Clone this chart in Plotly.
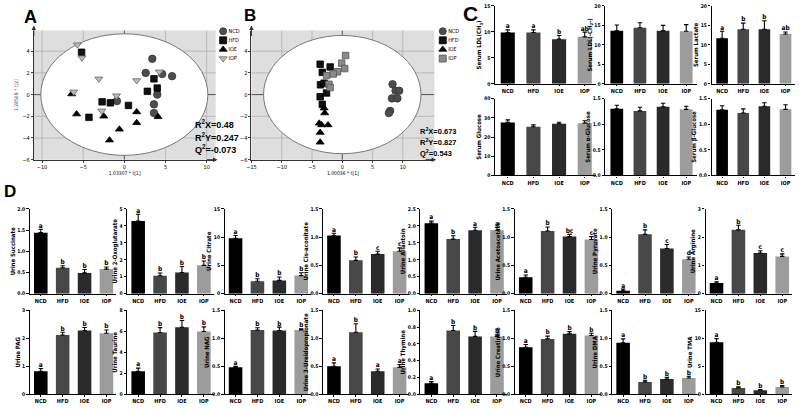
import plotly.graph_objects as go

W, H = 800, 409
groups = ["NCD", "HFD", "IOE", "IOP"]

# ---------------- Panel A: score plot ----------------
a_ncd_x = [3.4, 2.6, 4.6, 5.8, 4.0, -0.9, 3.6, 3.6]
a_ncd_y = [3.3, 2.0, 1.9, 1.7, 0.0, -0.6, -0.9, -1.7]
a_hfd_x = [-5.2, 3.6, 2.8, 4.0, -2.7, -1.7, 0.5, -4.3]
a_hfd_y = [3.9, 1.45, 0.3, 0.6, -0.67, -0.76, -1.0, -2.1]
a_ioe_x = [-6.4, -5.8, -2.5, 1.5, 4.1, 1.5, -0.6, -1.8]
a_ioe_y = [0.05, -1.8, -2.0, -1.6, -2.05, -2.6, -3.2, -4.2]
a_iop_x = [-5.7, -5.15, -3.1, -6.15, -0.95, -2.75, 1.5, 4.25]
a_iop_y = [4.6, 3.4, 1.45, 0.25, -0.1, -1.5, 1.3, 2.1]
a_stats = ["R<sup>2</sup>X=0.48", "R<sup>2</sup>Y=0.247", "Q<sup>2</sup>=-0.073"]

# ---------------- Panel B: score plot ----------------
b_ncd_x = [8.3, 8.8, 9.4, 8.2, 9.1, 7.9, 7.7]
b_ncd_y = [0.95, 0.35, 0.35, -0.35, -0.35, -1.5, -1.7]
b_hfd_x = [-3.65, -3.3, -2.0, -3.6, -3.0, -2.6, -3.65, -3.3]
b_hfd_y = [2.8, 2.05, 2.55, 0.9, 1.05, 0.15, -0.2, -0.9]
b_ioe_x = [-3.0, -2.9, -3.8, -3.4, -2.35, -3.65, -3.65]
b_ioe_y = [-1.25, -1.7, -2.65, -2.8, -2.8, -3.5, -4.4]
b_iop_x = [0.55, -0.1, 0.4, -0.8, -1.5, -2.6, -2.2, -2.0]
b_iop_y = [3.6, 2.9, 2.4, 2.1, 1.9, 1.75, 0.95, 0.65]
b_stats = ["R<sup>2</sup>X=0.673", "R<sup>2</sup>Y=0.827", "Q<sup>2</sup>=0.543"]

# ---------------- Panel C: serum ----------------
c_titles = ["Serum LDL(CH<sub>3</sub>)", "Serum LDL(-CH<sub>2</sub>-)", "Serum Lactate",
            "Serum Glucose", "Serum α-Glucose", "Serum β-Glucose"]
c_vals = [[9.9, 9.9, 8.6, 9.05], [13.6, 14.4, 13.6, 13.5], [11.7, 14.0, 14.0, 12.8],
          [27.6, 25.3, 26.9, 27.2], [1.30, 1.26, 1.34, 1.29], [1.28, 1.22, 1.35, 1.29]]
c_errs = [[0.5, 0.5, 0.7, 0.9], [1.5, 1.3, 1.4, 1.7], [1.8, 1.6, 2.2, 0.5],
          [1.3, 1.0, 0.8, 1.3], [0.07, 0.07, 0.07, 0.06], [0.08, 0.08, 0.07, 0.09]]
c_letters = [["a", "a", "b", "ab"], None, ["a", "b", "b", "ab"], None, None, None]
c_ymax = [15, 20, 20, 40, 1.5, 1.5]
c_dtick = [5, 5, 5, 10, 0.5, 0.5]
c_fmt = ["d", "d", "d", "d", ".1f", ".1f"]

# ---------------- Panel D: urine ----------------
d_titles = ["Urine Succinate", "Urine 2-Oxoglutarate", "Urine Citrate", "Urine Cis-aconitate",
            "Urine Allantoin", "Urine Acetoacetate", "Urine Pyruvate", "Urine Arginine",
            "Urine PAG", "Urine Taurine", "Urine NAG", "Urine 3-Ureidopropionate",
            "Urine Thymine", "Urine Creatinine", "Urine DMA", "Urine TMA"]
d_vals = [[1.44, 0.61, 0.49, 0.58], [4.29, 1.06, 1.25, 1.67], [9.8, 2.2, 2.35, 3.2],
          [1.03, 0.59, 0.70, 0.75], [2.08, 1.61, 1.87, 1.87], [0.29, 1.11, 1.01, 0.96],
          [0.05, 1.05, 0.80, 0.61], [0.38, 2.26, 1.44, 1.32],
          [0.82, 2.12, 2.28, 2.18], [2.18, 5.89, 6.39, 5.98], [0.48, 1.15, 1.14, 1.15],
          [0.50, 1.11, 0.41, 0.48], [0.13, 0.76, 0.69, 0.69], [0.84, 0.99, 1.08, 1.05],
          [0.92, 0.22, 0.27, 0.29], [9.3, 1.1, 0.7, 1.3]]
d_errs = [[0.08, 0.05, 0.08, 0.05], [0.40, 0.16, 0.35, 0.26], [0.5, 0.45, 0.6, 0.5],
          [0.04, 0.06, 0.05, 0.06], [0.06, 0.10, 0.09, 0.09], [0.04, 0.07, 0.04, 0.05],
          [0.03, 0.08, 0.07, 0.04], [0.04, 0.16, 0.08, 0.09],
          [0.10, 0.10, 0.11, 0.12], [0.31, 0.47, 0.65, 0.45], [0.02, 0.04, 0.06, 0.02],
          [0.06, 0.15, 0.04, 0.05], [0.02, 0.06, 0.06, 0.02], [0.05, 0.05, 0.04, 0.04],
          [0.07, 0.03, 0.03, 0.03], [0.65, 0.2, 0.15, 0.25]]
d_letters = [["a", "b", "b", "b"], ["a", "b", "b", "b"], ["a", "b", "b", "b"], ["a", "b", "c", "c"],
             ["a", "b", "a", "a"], ["a", "b", "bc", "c"], ["a", "b", "c", "d"], ["a", "b", "c", "c"],
             ["a", "b", "b", "b"], ["a", "b", "b", "b"], ["a", "b", "b", "b"], ["a", "b", "a", "a"],
             ["a", "b", "b", "b"], ["a", "b", "b", "b"], ["a", "b", "b", "b"], ["a", "b", "b", "b"]]
d_ymax = [2.0, 5, 15, 1.5, 2.5, 1.5, 1.5, 3, 3, 8, 1.5, 1.5, 1.0, 1.5, 1.5, 15]
d_dtick = [0.5, 1, 5, 0.5, 0.5, 0.5, 0.5, 1, 1, 2, 0.5, 0.5, 0.2, 0.5, 0.5, 5]
d_fmt = [".1f", "d", "d", ".1f", ".1f", ".1f", ".1f", "d", "d", "d", ".1f", ".1f", ".1f", ".1f", ".1f", "d"]

bar_colors = ["#000000", "#474747", "#2a2a2a", "#9c9c9c"]

FONT = "Liberation Sans Narrow, DejaVu Sans Condensed, Liberation Sans, Arial"

fig = go.Figure()
layout = dict(width=W, height=H, margin=dict(l=0, r=0, t=0, b=0),
              paper_bgcolor="white", plot_bgcolor="rgba(0,0,0,0)", showlegend=False,
              font=dict(family=FONT, color="black", size=6))
shapes, annotations = [], []


def names(k):
    s = "" if k == 1 else str(k)
    return "xaxis" + s, "yaxis" + s, "x" + s, "y" + s


def xdom(x0, w):
    return [x0 / W, (x0 + w) / W]


def ydom(top, bot):
    return [1 - bot / H, 1 - top / H]


k_counter = [0]


def next_k():
    k_counter[0] += 1
    return k_counter[0]


def bar_panel(title, vals, errs, letters, ymax, dtick, fmt, x0, w, top, bot, barw, tfs=6):
    k = next_k()
    xa, ya, xr, yr = names(k)
    fig.add_trace(go.Bar(x=groups, y=vals, marker=dict(color=bar_colors, line=dict(width=0)),
                         width=barw, xaxis=xr, yaxis=yr,
                         error_y=dict(type="data", array=errs, arrayminus=[0] * 4, symmetric=False,
                                      color="black", thickness=1.1, width=2.2)))
    if letters:
        tops = [v + e for v, e in zip(vals, errs)]
        fig.add_trace(go.Scatter(x=groups, y=tops, mode="text", text=letters, textposition="top center",
                                 textfont=dict(size=6.5, family=FONT, color="black", weight="bold"),
                                 cliponaxis=False, xaxis=xr, yaxis=yr))
    layout[xa] = dict(domain=xdom(x0, w), anchor=yr, type="category", range=[-0.5, 3.45],
                      showline=True, linecolor="black", linewidth=1.2, ticks="outside", ticklen=1.5,
                      tickcolor="black", tickfont=dict(size=5.5, weight="bold", family=FONT),
                      showgrid=False, zeroline=False, fixedrange=True)
    layout[ya] = dict(domain=ydom(top, bot), anchor=xr, range=[0, ymax], dtick=dtick, tick0=0,
                      tickformat=fmt, showline=True, linecolor="black", linewidth=1.2,
                      ticks="outside", ticklen=2.5, tickcolor="black",
                      tickfont=dict(size=5, weight="bold", family=FONT),
                      showgrid=False, zeroline=False, fixedrange=True,
                      title=dict(text=title, font=dict(size=tfs, weight="bold", family=FONT), standoff=1))


def score_panel(series, xr_, yr_, xticks, yticks, x0, x1, top, bot, rx, ry, xtitle, ytitle):
    k = next_k()
    xa, ya, xr, yr = names(k)
    for sx, sy, sym, col, lcol, size in series:
        fig.add_trace(go.Scatter(x=sx, y=sy, mode="markers", xaxis=xr, yaxis=yr,
                                 marker=dict(symbol=sym, color=col, size=size,
                                             line=dict(color=lcol, width=0.8))))
    layout[xa] = dict(domain=[x0 / W, x1 / W], anchor=yr, range=xr_, tickvals=xticks,
                      showline=True, linecolor="#333", linewidth=1, ticks="outside", ticklen=2,
                      tickfont=dict(size=5.5, family=FONT), showgrid=False,
                      zeroline=False, fixedrange=True,
                      title=dict(text=xtitle, font=dict(size=5, family=FONT), standoff=2))
    layout[ya] = dict(domain=ydom(top, bot), anchor=xr, range=yr_, tickvals=yticks,
                      showline=True, linecolor="#333", linewidth=1, ticks="outside", ticklen=2,
                      tickfont=dict(size=5.5, family=FONT), showgrid=False,
                      zeroline=False, fixedrange=True,
                      title=dict(text=ytitle, font=dict(size=5, family=FONT, color="#555"), standoff=3))
    dx = xr + " domain"
    dy = yr + " domain"
    shapes.append(dict(type="rect", xref=dx, yref=dy, x0=0, x1=1, y0=0, y1=1,
                       fillcolor="#dedede", line=dict(width=0), layer="below"))
    for t in xticks:
        if t != 0 and t > xr_[0]:
            shapes.append(dict(type="line", xref=xr, yref=dy, x0=t, x1=t, y0=0, y1=1,
                               line=dict(color="#b0b0b0", width=0.8), layer="below"))
    for t in yticks:
        if t != 0 and t > yr_[0]:
            shapes.append(dict(type="line", xref=dx, yref=yr, x0=0, x1=1, y0=t, y1=t,
                               line=dict(color="#b0b0b0", width=0.8), layer="below"))
    shapes.append(dict(type="circle", xref=xr, yref=yr, x0=-rx, x1=rx, y0=-ry, y1=ry,
                       fillcolor="white", line=dict(color="#6a6a6a", width=0.9), layer="below"))
    shapes.append(dict(type="line", xref=xr, yref=dy, x0=0, x1=0, y0=0, y1=1,
                       line=dict(color="#555", width=1), layer="below"))
    shapes.append(dict(type="line", xref=dx, yref=yr, x0=0, x1=1, y0=0, y1=0,
                       line=dict(color="#555", width=1), layer="below"))
    annotations.append(dict(xref=dx, yref=dy, x=0, y=1.04, ax=0, ay=12, showarrow=True,
                            arrowhead=2, arrowsize=0.9, arrowwidth=1, arrowcolor="#333", text=""))
    annotations.append(dict(xref=dx, yref=dy, x=1.01, y=0, ax=-12, ay=0, showarrow=True,
                            arrowhead=2, arrowsize=0.9, arrowwidth=1, arrowcolor="#333", text=""))
    return k


def legend_panel(symbols, colors, lcolors, x0, top, bot):
    k = next_k()
    xa, ya, xr, yr = names(k)
    fig.add_trace(go.Scatter(x=[0, 0, 0, 0], y=[3, 2, 1, 0], mode="markers+text", text=groups,
                             textposition="middle right", xaxis=xr, yaxis=yr, cliponaxis=False,
                             textfont=dict(size=5.5, family=FONT, color="black"),
                             marker=dict(symbol=symbols, color=colors, size=7,
                                         line=dict(color=lcolors, width=0.8))))
    layout[xa] = dict(domain=xdom(x0, 47), anchor=yr, range=[-1, 9.4], visible=False, fixedrange=True)
    layout[ya] = dict(domain=ydom(top, bot), anchor=xr, range=[-0.5, 3.5], visible=False, fixedrange=True)


# Panel A
score_panel([(a_ncd_x, a_ncd_y, "circle", "#4d4d4d", "#333", 7.5),
             (a_hfd_x, a_hfd_y, "square", "#111111", "#000", 6.5),
             (a_ioe_x, a_ioe_y, "triangle-up", "#000000", "#000", 7),
             (a_iop_x, a_iop_y, "triangle-down", "#bcbcbc", "#666", 7)],
            [-11, 11.1], [-6, 5.9], [-10, -5, 0, 5, 10], [-6, -4, -2, 0, 2, 4],
            29, 212, 28, 159, 10.15, 5.6, "1.03307 * t[1]", "1.28569 * t[2]")
legend_panel(["circle", "square", "triangle-up", "triangle-down"],
             ["#4d4d4d", "#111", "#000", "#bcbcbc"], ["#333", "#000", "#000", "#666"], 215, 24, 61)
# Panel B
score_panel([(b_ncd_x, b_ncd_y, "circle", "#4d4d4d", "#333", 7.5),
             (b_hfd_x, b_hfd_y, "square", "#111111", "#000", 6.5),
             (b_ioe_x, b_ioe_y, "triangle-up", "#000000", "#000", 7),
             (b_iop_x, b_iop_y, "square", "#8a8a8a", "#555", 6.5)],
            [-15, 15.2], [-6, 5.9], [-15, -10, -5, 0, 5, 10], [-6, -4, -2, 0, 2, 4],
            248, 432, 28, 159, 13.0, 5.45, "1.00036 * t[1]", "")
legend_panel(["circle", "square", "triangle-up", "square"],
             ["#4d4d4d", "#111", "#000", "#8a8a8a"], ["#333", "#000", "#000", "#555"], 436, 24, 61)

for i, t in enumerate(a_stats):
    annotations.append(dict(xref="paper", yref="paper", x=189 / W, y=1 - (123 + 12.5 * i) / H,
                            xanchor="left", yanchor="middle", showarrow=False, text=t,
                            font=dict(size=9, family="Liberation Sans", weight="bold")))
for i, t in enumerate(b_stats):
    annotations.append(dict(xref="paper", yref="paper", x=416 / W, y=1 - (130 + 11 * i) / H,
                            xanchor="left", yanchor="middle", showarrow=False, text=t,
                            font=dict(size=7.5, family="Liberation Sans", weight="bold")))

# Panel C
c_x0 = [493, 604, 711]
c_w = [102, 92, 84]
c_rows = [(3, 82), (97, 175)]
for i in range(6):
    r, c = divmod(i, 3)
    bar_panel(c_titles[i], c_vals[i], c_errs[i], c_letters[i], c_ymax[i], c_dtick[i], c_fmt[i],
              c_x0[c], c_w[c], c_rows[r][0], c_rows[r][1], 0.55)

# Panel D
d_x0 = [25, 123, 221, 320, 418, 513, 611, 705]
d_rows = [(209, 295), (312, 397)]
for i in range(16):
    r, c = divmod(i, 8)
    bar_panel(d_titles[i], d_vals[i], d_errs[i], d_letters[i], d_ymax[i], d_dtick[i], d_fmt[i],
              d_x0[c], 87, d_rows[r][0], d_rows[r][1], 0.62)

# Panel letters
for lab, x, y, s in [("A", 26, 14, 18), ("B", 247, 13, 17), ("C", 468, 11, 21), ("D", 5, 191, 17)]:
    annotations.append(dict(xref="paper", yref="paper", x=x / W, y=1 - y / H, xanchor="center",
                            yanchor="middle", showarrow=False, text=lab,
                            font=dict(size=s, family="Liberation Sans", weight="bold")))

layout["shapes"] = shapes
layout["annotations"] = annotations
fig.update_layout(**layout)
fig.write_html("out.html", config={"displayModeBar": False},
               post_script="document.body.style.margin='0';document.body.style.overflow='hidden';")
